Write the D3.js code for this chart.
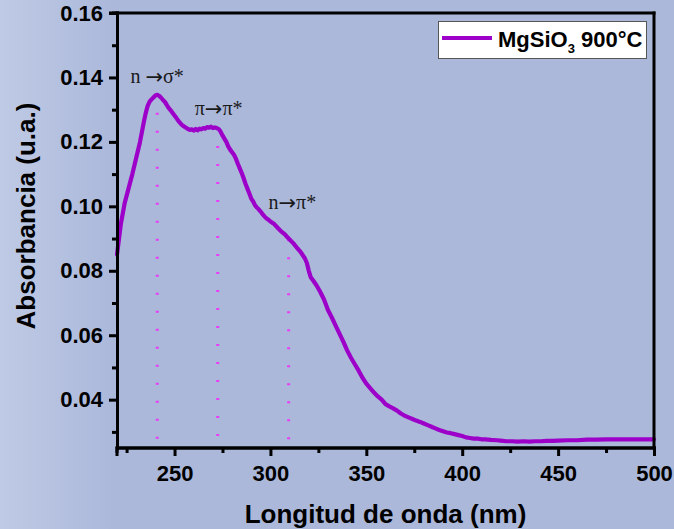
<!DOCTYPE html>
<html>
<head>
<meta charset="utf-8">
<script src="https://cdn.jsdelivr.net/npm/d3@7"></script>
<style>
  html, body { margin: 0; padding: 0; }
  body { width: 674px; height: 529px; overflow: hidden; }
  text { font-family: "Liberation Sans", Arial, sans-serif; }
</style>
</head>
<body>
<svg id="chart" width="674" height="529"></svg>
<script>
// wavelength (nm) and absorbance
const wavelength = [220,222,224,226,228,230,232,234,235,236,237,238,239,240,241,242,243,244,245,246,247,248,249,250,
  251,252,253,254,255,256,257,258,259,260,261,262,263,264,265,266,267,268,269,270,271,272,273,274,275,276,277,278,279,280,
  281,282,283,284,285,286,287,288,289,290,291,292,293,294,295,296,297,298,299,300,302,304,305,306,307,308,309,310,
  312,314,316,318,319,320,321,322,324,326,328,330,332,334,336,338,340,342,344,346,348,350,352,354,356,358,360,
  362,364,366,368,370,372,374,376,378,380,382,384,386,388,390,392,394,396,398,400,402,404,406,408,410,412,415,418,420,
  423,426,429,432,435,438,441,444,447,450,455,460,465,470,475,480,485,490,495,500];
const absorbance = [0.0850,0.0945,0.1010,0.1055,0.1100,0.1150,0.1200,0.1262,0.1290,0.1312,0.1325,0.1332,0.1338,0.1344,0.1346,0.1343,0.1337,0.1330,0.1324,0.1314,0.1305,0.1298,0.1290,0.1282,
  0.1274,0.1265,0.1258,0.1252,0.1248,0.1244,0.1240,0.1237,0.1239,0.1235,0.1240,0.1236,0.1241,0.1239,0.1243,0.1241,0.1246,0.1244,0.1247,0.1243,0.1245,0.1243,0.1240,0.1232,0.1220,0.1210,0.1200,0.1186,0.1176,0.1168,
  0.1160,0.1148,0.1132,0.1118,0.1104,0.1088,0.1070,0.1055,0.1040,0.1024,0.1015,0.1003,0.0996,0.0990,0.0983,0.0975,0.0968,0.0962,0.0958,0.0953,0.0945,0.0932,0.0926,0.0920,0.0916,0.0910,0.0903,0.0897,
  0.0885,0.0870,0.0856,0.0838,0.0824,0.0800,0.0780,0.0772,0.0755,0.0734,0.0710,0.0678,0.0655,0.0630,0.0605,0.0580,0.0553,0.0530,0.0510,0.0490,0.0468,0.0450,0.0436,0.0422,0.0410,0.0400,0.0386,
  0.0379,0.0373,0.0366,0.0357,0.0350,0.0345,0.0340,0.0335,0.0331,0.0326,0.0321,0.0316,0.0311,0.0306,0.0302,0.0298,0.0296,0.0293,0.0290,0.0287,0.0283,0.0281,0.0279,0.0279,0.0277,0.0277,0.0275,0.0274,0.0273,
  0.0271,0.0271,0.0270,0.0271,0.0270,0.0271,0.0271,0.0272,0.0272,0.0273,0.0274,0.0274,0.0276,0.0276,0.0277,0.0277,0.0277,0.0277,0.0277,0.0277];

// electronic transitions marked with dotted lines: [left part, right part]
const transitionLabels = [["n ", "\u03c3*"], ["\u03c0", "\u03c0*"], ["n", "\u03c0*"]];
const transitionNm = [241, 272.5, 309.5];
const transitionTop = [0.1346, 0.1243, 0.0898];
const transitionBottom = 0.0275;
// label anchor (nm, absorbance) for each transition text
const labelNm = [227, 260.5, 299];
const labelAbs = [0.1383, 0.1284, 0.0993];

const xTicks = [250, 300, 350, 400, 450, 500];
const xMinor = [225, 275, 325, 375, 425, 475];
const yTicks = [0.04, 0.06, 0.08, 0.10, 0.12, 0.14, 0.16];
const yMinor = [0.03, 0.05, 0.07, 0.09, 0.11, 0.13, 0.15];

const seriesName = "MgSiO";
const seriesSub = "3";
const seriesTail = " 900\u00b0C";

const lineColor = "#9c00c9";
const dotColor = "#e83cf8";

// set graph dimensions
let margin = { top: 13, right: 20, bottom: 81, left: 117 };
let width = 674 - margin.left - margin.right;
let height = 529 - margin.top - margin.bottom;

let svg = d3.select("#chart");

// background with light left edge
let defs = svg.append("defs");
let grad = defs.append("linearGradient").attr("id", "bg").attr("x1", "0").attr("x2", "1").attr("y1", "0").attr("y2", "0");
grad.append("stop").attr("offset", "0").attr("stop-color", "#bfcae5");
grad.append("stop").attr("offset", "0.17").attr("stop-color", "#abb8da");
grad.append("stop").attr("offset", "1").attr("stop-color", "#abb8da");
svg.append("rect").attr("width", 674).attr("height", 529).attr("fill", "url(#bg)");

let g = svg.append("g").attr("transform", `translate(${margin.left}, ${margin.top})`);

// set the ranges
let x = d3.scaleLinear().domain([220, 500]).range([0, width]);
let y = d3.scaleLinear().domain([0.025, 0.16]).range([height, 0]);

// dotted transition markers
transitionNm.forEach((nm, i) => {
  g.append("line")
    .attr("x1", x(nm)).attr("x2", x(nm))
    .attr("y1", y(transitionTop[i])).attr("y2", y(transitionBottom))
    .attr("stroke", dotColor)
    .attr("stroke-width", 3)
    .attr("stroke-dasharray", "2,16");
});

// spectrum
let data = wavelength.map((w, i) => ({ w: w, a: absorbance[i] }));
let line = d3.line()
  .x(d => x(d.w))
  .y(d => y(d.a));

g.append("path")
  .datum(data)
  .attr("fill", "none")
  .attr("stroke", lineColor)
  .attr("stroke-width", 4.2)
  .attr("stroke-linejoin", "round")
  .attr("stroke-linecap", "round")
  .attr("d", line);

// transition labels, long arrow between the two parts
transitionLabels.forEach((t, i) => {
  let tx = g.append("text")
    .attr("x", x(labelNm[i]))
    .attr("y", y(labelAbs[i]))
    .style("font-family", "'Liberation Serif', 'Times New Roman', serif")
    .style("font-size", "20px")
    .attr("fill", "#1a1a1a");
  tx.append("tspan").text(t[0]);
  tx.append("tspan")
    .style("font-family", "'DejaVu Sans', sans-serif")
    .style("font-size", "21px")
    .attr("dy", 1)
    .text("\u2192");
  tx.append("tspan").attr("dy", -1).text(t[1]);
});

// frame (top and right)
g.append("line").attr("x1", 0).attr("x2", width).attr("y1", 0).attr("y2", 0)
  .attr("stroke", "#000").attr("stroke-width", 3).attr("stroke-linecap", "square");
g.append("line").attr("x1", width).attr("x2", width).attr("y1", 0).attr("y2", height)
  .attr("stroke", "#000").attr("stroke-width", 3).attr("stroke-linecap", "square");

// minor ticks
g.append("g")
  .attr("class", "axis")
  .attr("transform", "translate(0," + height + ")")
  .call(d3.axisBottom(x).tickValues(xMinor).tickSize(5).tickFormat(""));
g.append("g")
  .attr("class", "axis")
  .call(d3.axisLeft(y).tickValues(yMinor).tickSize(5).tickFormat(""));

// add X axis
g.append("g")
  .attr("class", "axis")
  .attr("transform", "translate(0," + height + ")")
  .call(d3.axisBottom(x).tickValues(xTicks).tickSize(8).tickPadding(9).tickFormat(d3.format("d")));

// add Y axis
g.append("g")
  .attr("class", "axis")
  .call(d3.axisLeft(y).tickValues(yTicks).tickSize(8).tickPadding(6).tickFormat(d3.format(".2f")));

svg.selectAll(".axis path.domain").attr("stroke", "#000").attr("stroke-width", 3);
svg.selectAll(".axis line").attr("stroke", "#000").attr("stroke-width", 3);
svg.selectAll(".axis text")
  .attr("fill", "#000")
  .style("font-size", "22px")
  .style("font-weight", "bold");
svg.selectAll(".axis path.domain").each(function () {
  // square off the axis lines, drop the end caps
  let p = d3.select(this);
  let d = p.attr("d");
  p.attr("d", d.replace(/M-?\d+(\.\d+)?,/, "M0,").replace(/V-?\d+(\.\d+)?H/, "V0H"));
});

// axis titles
svg.append("text")
  .attr("x", margin.left + width / 2)
  .attr("y", 523)
  .attr("text-anchor", "middle")
  .style("font-size", "26px")
  .style("font-weight", "bold")
  .text("Longitud de onda (nm)");

svg.append("text")
  .attr("transform", "translate(35,216) rotate(-90)")
  .attr("text-anchor", "middle")
  .style("font-size", "26px")
  .style("font-weight", "bold")
  .text("Absorbancia (u.a.)");

// legend
let lg = svg.append("g");
lg.append("rect")
  .attr("x", 438.5).attr("y", 21.5).attr("width", 208).attr("height", 37)
  .attr("fill", "#fff").attr("stroke", "#555").attr("stroke-width", 1);
lg.append("line")
  .attr("x1", 442).attr("x2", 492).attr("y1", 38).attr("y2", 38)
  .attr("stroke", lineColor).attr("stroke-width", 4);
let lt = lg.append("text")
  .attr("x", 498).attr("y", 47)
  .style("font-size", "22px")
  .style("font-weight", "bold")
  .attr("fill", "#000");
lt.append("tspan").text(seriesName);
lt.append("tspan").attr("dy", 6).style("font-size", "13px").text(seriesSub);
lt.append("tspan").attr("dy", -6).text(seriesTail);
</script>
</body>
</html>
